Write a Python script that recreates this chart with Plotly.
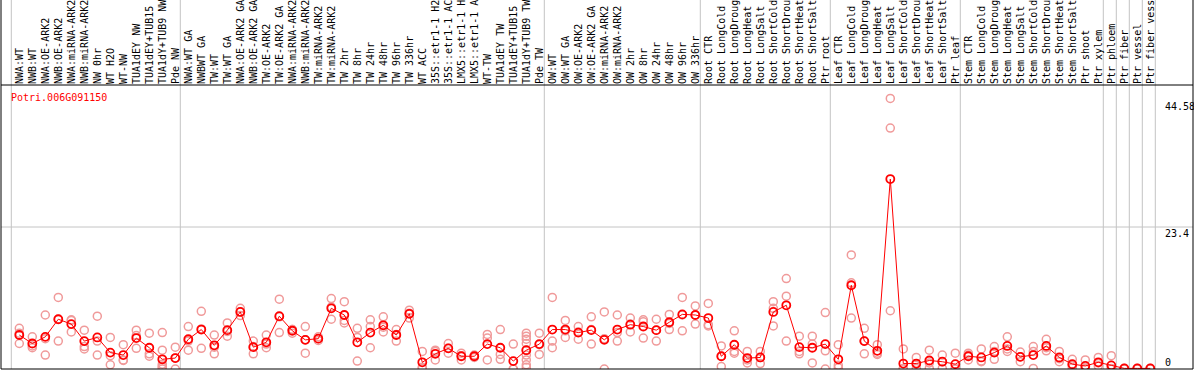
import plotly.graph_objects as go

gene = "Potri.006G091150"

categories = [
    "NWA:WT", "NWB:WT", "NWA:OE-ARK2", "NWB:OE-ARK2", "NWA:miRNA-ARK2", "NWB:miRNA-ARK2",
    "NW 0hr", "WT H2O", "WT-NW", "TUA1dEY NW", "TUA1dEY+TUB15 NW", "TUA1dY+TUB9 NW", "Pde NW",
    "NWA:WT GA", "NWBWT GA", "TW:WT", "TW:WT GA", "NWA:OE-ARK2 GA", "NWB:OE-ARK2 GA",
    "TW:OE-ARK2", "TW:OE-ARK2 GA", "NWA:miRNA-ARK2 GA", "NWB:miRNA-ARK2 GA", "TW:miRNA-ARK2",
    "TW:miRNA-ARK2 GA", "TW 2hr", "TW 8hr", "TW 24hr", "TW 48hr", "TW 96hr", "TW 336hr",
    "WT ACC", "35S::etr1-1 H2O", "35S::etr1-1 ACC", "LMX5::etr1-1 H2O", "LMX5::etr1-1 ACC",
    "WT-TW", "TUA1dEY TW", "TUA1dEY+TUB15 TW", "TUA1dY+TUB9 TW", "Pde TW",
    "OW:WT", "OW:WT GA", "OW:OE-ARK2", "OW:OE-ARK2 GA", "OW:miRNA-ARK2", "OW:miRNA-ARK2 GA",
    "OW 2hr", "OW 8hr", "OW 24hr", "OW 48hr", "OW 96hr", "OW 336hr",
    "Root CTR", "Root LongCold", "Root LongDrought", "Root LongHeat", "Root LongSalt",
    "Root ShortCold", "Root ShortDrought", "Root ShortHeat", "Root ShortSalt", "Ptr root",
    "Leaf CTR", "Leaf LongCold", "Leaf LongDrought", "Leaf LongHeat", "Leaf LongSalt",
    "Leaf ShortCold", "Leaf ShortDrought", "Leaf ShortHeat", "Leaf ShortSalt", "Ptr leaf",
    "Stem CTR", "Stem LongCold", "Stem LongDrought", "Stem LongHeat", "Stem LongSalt",
    "Stem ShortCold", "Stem ShortDrought", "Stem ShortHeat", "Stem ShortSalt",
    "Ptr shoot", "Ptr xylem", "Ptr phloem", "Ptr fiber", "Ptr vessel", "Ptr fiber vessel",
]

means = [
    5.6, 4.2, 5.3, 8.2, 7.4, 4.6, 5.2, 2.7, 2.3, 5.1, 3.5, 1.6, 1.8,
    4.9, 6.5, 3.9, 6.4, 9.4, 3.6, 4.4, 8.7, 6.3, 4.8, 5.0, 10.0, 8.9, 4.4, 6.0, 7.2, 5.6, 9.1,
    1.1, 2.5, 3.4, 2.1, 2.1, 4.1, 3.5, 1.3, 3.1, 4.1,
    6.5, 6.5, 6.0, 6.4, 4.8, 6.5, 7.3, 7.0, 6.4, 7.7, 9.0, 8.9,
    8.4, 2.1, 4.0, 1.8, 1.9, 9.4, 10.5, 3.6, 3.5, 4.1,
    1.6, 13.8, 4.6, 3.0, 31.3, 0.9, 0.9, 1.4, 1.2, 0.8,
    2.1, 1.9, 2.7, 3.8, 2.0, 2.3, 3.8, 1.9, 0.8,
    0.5, 1.1, 0.6, 0.1, 0.1, 0.1,
]

replicates = [
    [6.7, 5.9, 4.2], [5.3, 3.8, 3.5], [8.9, 5.0, 2.3], [11.8, 8.2, 4.6], [8.1, 8.0, 6.1],
    [6.4, 3.7, 3.3], [8.7, 4.6, 2.3], [5.2, 2.2, 0.7], [4.0, 1.5, 1.4], [6.4, 5.5, 3.4],
    [5.9, 2.5, 2.1], [6.0, 3.1, 0.8, 0.5, 0.3, 0.0], [3.6, 1.8, 0.0],
    [7.0, 4.6, 3.1], [9.5, 6.6, 3.4], [5.6, 3.6, 2.5], [7.6, 6.2, 5.4], [10.0, 9.4, 8.8],
    [4.6, 3.7, 2.5], [5.6, 4.1, 3.5], [11.5, 8.6, 6.0], [6.5, 6.5, 5.9], [7.0, 4.8, 2.6],
    [5.3, 5.0, 4.7], [11.6, 10.2, 8.2], [11.1, 8.0, 7.6], [6.7, 5.2, 1.3], [8.1, 7.0, 3.5],
    [8.6, 6.9, 6.1], [6.5, 5.7, 4.6], [9.7, 9.2, 8.4],
    [2.9, 0.3, 0.1], [3.1, 2.9, 1.5], [4.2, 3.4, 2.6], [2.6, 2.2, 1.5], [2.3, 2.1, 1.9],
    [5.7, 5.1, 1.5], [6.5, 2.4, 1.6], [4.1, 0.0, 0.0],
    [5.9, 5.4, 4.9, 4.2, 3.1, 2.3, 1.5, 0.7, 0.3], [5.9, 4.0, 2.4],
    [11.8, 4.6, 3.5], [8.0, 6.3, 5.2], [7.0, 6.1, 4.9], [8.6, 6.5, 4.1], [9.4, 5.0, 0.0],
    [8.9, 6.0, 4.6], [8.4, 7.4, 6.1], [8.1, 7.8, 5.1], [8.2, 6.4, 4.6], [9.0, 7.5, 6.5],
    [11.8, 8.9, 6.3], [10.4, 8.9, 7.4],
    [10.8, 7.3, 7.1], [3.8, 2.1, 0.4], [6.3, 2.9, 2.6], [2.9, 1.5, 1.0], [2.9, 1.9, 0.9],
    [11.1, 10.0, 7.1], [14.9, 12.0, 4.6], [5.4, 2.9, 2.5], [5.4, 4.1, 1.0], [9.3, 3.0, 0.0],
    [4.0, 0.6, 0.2], [18.8, 14.2, 8.4], [6.7, 4.6, 2.5], [4.0, 2.6, 2.4], [44.58, 39.7, 9.6],
    [3.3, 0.1, 0.0], [1.9, 0.8, 0.1], [3.1, 1.0, 0.1], [2.3, 1.2, 0.1], [2.6, 0.1, 0.0],
    [2.6, 2.3, 1.5], [3.3, 1.3, 1.2], [3.7, 2.9, 1.6], [5.3, 3.3, 2.9], [2.8, 2.0, 1.2],
    [3.7, 2.9, 0.1], [4.9, 3.5, 3.0], [2.9, 1.7, 1.2], [1.6, 0.6, 0.2],
    [1.5, 0.1, 0.0], [1.9, 1.0, 0.5], [2.2, 0.1, 0.0], [0.1, 0.1, 0.0], [0.1, 0.1, 0.0],
    [0.1, 0.1, 0.0],
]

# group boundaries: separator after these category numbers (0 = before the first)
separators_after = [0, 13, 41, 53, 63, 73, 84, 85, 86, 87, 88]

y_labels = [44.58, 23.4, 0]
y_max = 46.8
grid_value = 23.4

MONO = "DejaVu Sans Mono"

xs = list(range(1, len(categories) + 1))
rep_x, rep_y = [], []
for i, reps in zip(xs, replicates):
    for r in reps:
        rep_x.append(i)
        rep_y.append(r)

fig = go.Figure()
fig.add_trace(go.Scatter(
    x=rep_x, y=rep_y, mode="markers",
    marker=dict(symbol="circle-open", size=8, color="#f09a9a", line=dict(width=1.5)),
    hoverinfo="skip", showlegend=False,
))
fig.add_trace(go.Scatter(
    x=xs, y=means, mode="lines+markers",
    line=dict(color="#ff0000", width=1),
    marker=dict(symbol="circle-open", size=8, color="#ff0000", line=dict(width=1.8)),
    showlegend=False,
))

W, H = 1194, 370
L, R, T, B = 1, 1, 85, 1
plot_w = W - L - R
plot_h = H - T - B
px_per_cat = 13.0
# category i is drawn at pixel 6.3 + 13*i ; plot area starts at pixel L
x_lo = (L - 6.3) / px_per_cat
x_hi = x_lo + plot_w / px_per_cat

top_paper = 1 + T / plot_h

shapes = []
for k in separators_after:
    xv = k + 0.385
    shapes.append(dict(type="line", xref="x", yref="paper", x0=xv, x1=xv, y0=0, y1=top_paper,
                       line=dict(color="#c4c4c4", width=1), layer="below"))
shapes.append(dict(type="line", xref="paper", yref="y", x0=0, x1=1, y0=grid_value, y1=grid_value,
                   line=dict(color="#c4c4c4", width=1), layer="below"))
# frame
shapes.append(dict(type="line", xref="paper", yref="paper", x0=0, x1=1, y0=1, y1=1,
                   line=dict(color="black", width=1)))
shapes.append(dict(type="line", xref="paper", yref="paper", x0=0, x1=1, y0=0, y1=0,
                   line=dict(color="black", width=1)))
shapes.append(dict(type="line", xref="paper", yref="paper", x0=0, x1=0, y0=0, y1=top_paper,
                   line=dict(color="black", width=1)))
shapes.append(dict(type="line", xref="paper", yref="paper", x0=1, x1=1, y0=0, y1=top_paper,
                   line=dict(color="black", width=1)))

annotations = [dict(
    text=gene, xref="paper", yref="paper",
    x=(9.3 - L) / plot_w, y=(H - B - 97) / plot_h,
    xanchor="left", yanchor="middle", showarrow=False,
    font=dict(family=MONO, size=10, color="#ff0000"),
)]
yshifts = {44.58: -8.5, 23.4: -6, 0: 6.3}
for v in y_labels:
    annotations.append(dict(
        text=str(v), xref="paper", yref="y", x=(1163 - L) / plot_w, y=v,
        xanchor="left", yanchor="middle", yshift=yshifts[v], showarrow=False,
        font=dict(family=MONO, size=10, color="black"),
    ))

fig.update_layout(
    width=W, height=H,
    margin=dict(l=L, r=R, t=T, b=B, pad=0),
    paper_bgcolor="white", plot_bgcolor="white",
    shapes=shapes, annotations=annotations,
    showlegend=False,
    hovermode=False,
    xaxis=dict(
        range=[x_lo, x_hi], side="top", tickmode="array", tickvals=xs, ticktext=categories,
        tickangle=-90, ticks="", showgrid=False, zeroline=False, showline=False,
        tickfont=dict(family=MONO, size=10, color="black"), automargin=False,
        ticklabelstandoff=0,
    ),
    yaxis=dict(
        range=[0, y_max], showgrid=False, zeroline=False, showline=False,
        showticklabels=False, ticks="", automargin=False,
    ),
)

fig.write_html(
    "out.html",
    config={"displayModeBar": False, "staticPlot": True},
    post_script="document.body.style.margin='0';document.body.style.overflow='hidden';",
)
